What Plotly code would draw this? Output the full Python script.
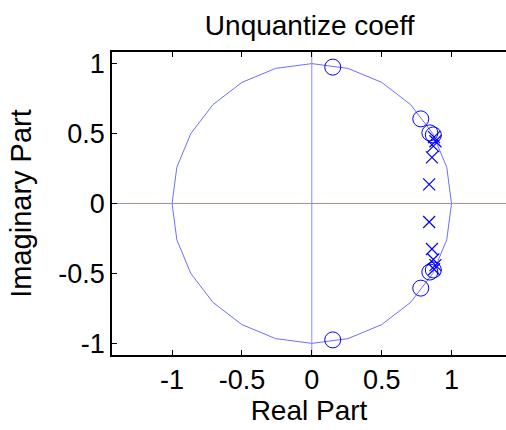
import numpy as np
import plotly.graph_objects as go

# Zeros (o) and poles (x) (conjugate pairs)
zero_re = [0.15, 0.15, 0.78, 0.78, 0.845, 0.845, 0.87, 0.87]
zero_im = [0.975, -0.975, 0.605, -0.605, 0.505, -0.49, 0.49, -0.475]
pole_re = [0.84, 0.84, 0.86, 0.86, 0.87, 0.87, 0.885, 0.885, 0.875, 0.875]
pole_im = [0.137, -0.132, 0.33, -0.325, 0.41, -0.40, 0.445, -0.44, 0.475, -0.47]

x_ticks = [-1, -0.5, 0, 0.5, 1]
y_ticks = [-1, -0.5, 0, 0.5, 1]
tick_text = ["-1", "-0.5", "0", "0.5", "1"]
x_range = [-1.43, 1.39]
y_range = [-1.083, 1.083]

theta = np.linspace(0, 2 * np.pi, 25)
circ_x = np.cos(theta)
circ_y = np.sin(theta)

light = "rgb(110,110,255)"
axis_light = "rgb(140,140,255)"
blue = "rgb(0,0,255)"

fig = go.Figure()
fig.add_trace(go.Scatter(x=circ_x, y=circ_y, mode="lines",
                         line=dict(color=light, width=1), hoverinfo="skip"))
fig.add_trace(go.Scatter(x=[0, 0], y=y_range, mode="lines",
                         line=dict(color=axis_light, width=1), hoverinfo="skip"))
fig.add_trace(go.Scatter(x=x_range, y=[0, 0], mode="lines",
                         line=dict(color=axis_light, width=1), hoverinfo="skip"))
fig.add_trace(go.Scatter(x=zero_re, y=zero_im, mode="markers",
                         marker=dict(symbol="circle-open", size=16, color=blue,
                                     line=dict(width=1, color=blue))))
fig.add_trace(go.Scatter(x=pole_re, y=pole_im, mode="markers",
                         marker=dict(symbol="x-thin-open", size=12, color=blue,
                                     line=dict(width=1.2, color=blue))))

family = "Liberation Sans, Arial, sans-serif"
title_font = dict(family=family, size=28, color="black")
ylab_font = dict(family=family, size=29, color="black")
tick_font = dict(family=family, size=27, color="black")

fig.update_layout(
    width=506, height=430,
    margin=dict(l=112, r=0, t=52, b=75),
    paper_bgcolor="white", plot_bgcolor="white",
    showlegend=False,
    font=tick_font,
    title=dict(text="Unquantize coeff", x=0.612, xanchor="center",
               y=1 - 25 / 430, yanchor="middle", font=title_font),
    xaxis=dict(range=x_range, tickvals=x_ticks, ticktext=tick_text,
               showgrid=False, zeroline=False, showline=True, linecolor="black",
               linewidth=1.5, mirror="ticks", ticks="inside", ticklen=5,
               tickcolor="black", tickfont=tick_font,
               title=dict(text="Real Part", font=title_font, standoff=4)),
    yaxis=dict(range=y_range, tickvals=y_ticks, ticktext=tick_text,
               showgrid=False, zeroline=False, showline=True, linecolor="black",
               linewidth=1.5, mirror=False, ticks="inside", ticklen=5,
               tickcolor="black", tickfont=tick_font,
               title=dict(text="Imaginary Part", font=ylab_font, standoff=18)),
)

fig.write_html("out.html")
